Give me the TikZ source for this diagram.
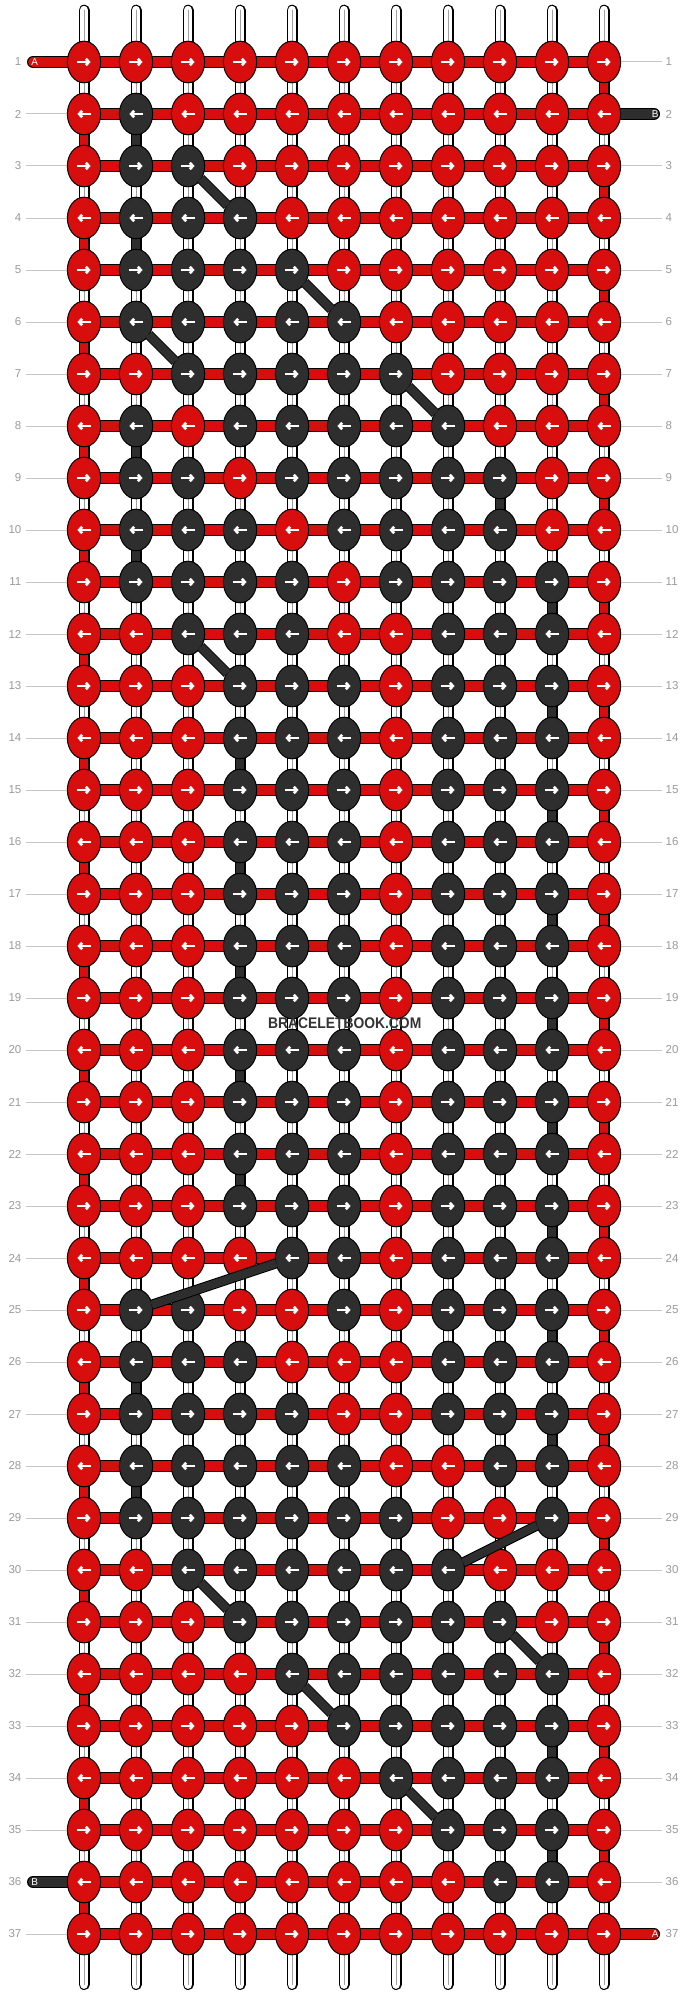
\documentclass[tikz,border=0pt]{standalone}
\usepackage{fontspec}
\setmainfont{Liberation Sans}
\usetikzlibrary{shapes.geometric,arrows.meta}
\definecolor{R}{HTML}{D80E0E}
\definecolor{K}{HTML}{2E2E2E}
\definecolor{lblgray}{HTML}{9A9A9A}
\definecolor{linegray}{HTML}{C4C4C4}
\definecolor{strandgray}{HTML}{A0A0A0}
\definecolor{wmgray}{HTML}{333333}
\pgfdeclarelayer{back}
\pgfsetlayers{back,main}
\tikzset{
  knot/.style={ellipse, draw=black, line width=1pt, minimum width=33.3pt, minimum height=41.6pt, inner sep=0pt},
  arrowline/.style={draw=white, line width=2.6pt, -{Straight Barb[length=3pt,width=6.5pt]}},
  knotR/.style={knot, path picture={\draw[arrowline] ([xshift=-6.6pt]path picture bounding box.center) -- ([xshift=6.6pt]path picture bounding box.center);}},
  knotL/.style={knot, path picture={\draw[arrowline] ([xshift=6.6pt]path picture bounding box.center) -- ([xshift=-6.6pt]path picture bounding box.center);}},
  wstrand/.style={draw=white, line width=8.8pt, preaction={draw=black, line width=11pt}, postaction={draw=strandgray, line width=0.9pt}},
  wstrandend/.style={draw=white, line width=8.8pt, line cap=round, preaction={draw=black, line width=11pt, line cap=round}, postaction={draw=strandgray, line width=0.9pt, line cap=round}},
  cstrand/.style={draw=#1, line width=8.8pt, preaction={draw=black, line width=11pt}},
  hband/.style={draw=R, line width=9.8pt, preaction={draw=black, line width=12pt}},
  endband/.style={draw=#1, line width=9.8pt, line cap=round, preaction={draw=black, line width=12pt, line cap=round}},
  diagband/.style={draw=K, line width=8.2pt, preaction={draw=black, line width=10.2pt}, shorten <=-1pt, shorten >=-1pt},
  gline/.style={draw=linegray, line width=1pt},
  rowlbl/.style={text=lblgray, font=\fontsize{11.5}{12}\selectfont, inner sep=0pt},
  endlbl/.style={text=white, font=\fontsize{10}{11}\selectfont, inner sep=0pt},
}
\begin{document}
\begin{tikzpicture}[x=1pt,y=-1pt]
\useasboundingbox (0,0) rectangle (688,1996);
% knots
\foreach \r/\cols in {
1/{R,R,R,R,R,R,R,R,R,R,R},
2/{R,K,R,R,R,R,R,R,R,R,R},
3/{R,K,K,R,R,R,R,R,R,R,R},
4/{R,K,K,K,R,R,R,R,R,R,R},
5/{R,K,K,K,K,R,R,R,R,R,R},
6/{R,K,K,K,K,K,R,R,R,R,R},
7/{R,R,K,K,K,K,K,R,R,R,R},
8/{R,K,R,K,K,K,K,K,R,R,R},
9/{R,K,K,R,K,K,K,K,K,R,R},
10/{R,K,K,K,R,K,K,K,K,R,R},
11/{R,K,K,K,K,R,K,K,K,K,R},
12/{R,R,K,K,K,R,R,K,K,K,R},
13/{R,R,R,K,K,K,R,K,K,K,R},
14/{R,R,R,K,K,K,R,K,K,K,R},
15/{R,R,R,K,K,K,R,K,K,K,R},
16/{R,R,R,K,K,K,R,K,K,K,R},
17/{R,R,R,K,K,K,R,K,K,K,R},
18/{R,R,R,K,K,K,R,K,K,K,R},
19/{R,R,R,K,K,K,R,K,K,K,R},
20/{R,R,R,K,K,K,R,K,K,K,R},
21/{R,R,R,K,K,K,R,K,K,K,R},
22/{R,R,R,K,K,K,R,K,K,K,R},
23/{R,R,R,K,K,K,R,K,K,K,R},
24/{R,R,R,R,K,K,R,K,K,K,R},
25/{R,K,K,R,R,K,R,K,K,K,R},
26/{R,K,K,K,R,R,R,K,K,K,R},
27/{R,K,K,K,K,R,R,K,K,K,R},
28/{R,K,K,K,K,K,R,R,K,K,R},
29/{R,K,K,K,K,K,K,R,R,K,R},
30/{R,R,K,K,K,K,K,K,R,R,R},
31/{R,R,R,K,K,K,K,K,K,R,R},
32/{R,R,R,R,K,K,K,K,K,K,R},
33/{R,R,R,R,R,K,K,K,K,K,R},
34/{R,R,R,R,R,R,K,K,K,K,R},
35/{R,R,R,R,R,R,R,K,K,K,R},
36/{R,R,R,R,R,R,R,R,K,K,R},
37/{R,R,R,R,R,R,R,R,R,R,R}} {
  \pgfmathsetmacro\yy{62+52*(\r-1)}
  \foreach \col [count=\c] in \cols {
    \pgfmathsetmacro\xx{84+52*(\c-1)}
    \ifodd\r
      \node[knotR, fill=\col] (k-\r-\c) at (\xx,\yy) {};
    \else
      \node[knotL, fill=\col] (k-\r-\c) at (\xx,\yy) {};
    \fi
  }
}
\begin{pgfonlayer}{back}
  % top and bottom strands
  \foreach \c in {1,...,11} {
    \pgfmathsetmacro\xx{84+52*(\c-1)}
    \coordinate (top-\c) at (\xx,10.2);
    \coordinate (bot-\c) at (\xx,1984.5);
    \draw[wstrandend] (top-\c) -- (k-1-\c.center);
    \draw[wstrandend] (bot-\c) -- (k-37-\c.center);
  }
  % vertical strands between rows
  \foreach \r in {1,...,36} {
    \pgfmathtruncatemacro\rn{\r+1}
    \foreach \c in {1,...,11} {
      \draw[wstrand] (k-\r-\c.center) -- (k-\rn-\c.center);
    }
  }
  \foreach \r in {1,3,...,35} {
    \pgfmathtruncatemacro\rn{\r+1}
    \draw[cstrand=R] (k-\r-11.center) -- (k-\rn-11.center);
  }
  \foreach \r in {2,4,...,36} {
    \pgfmathtruncatemacro\rn{\r+1}
    \draw[cstrand=R] (k-\r-1.center) -- (k-\rn-1.center);
  }
  \foreach \r/\c in {2/2,4/2,8/2,9/9,10/2,11/10,13/10,14/4,15/10,16/4,17/10,18/4,19/10,20/4,21/10,22/4,23/10,25/10,26/2,27/10,28/2,33/10,35/10} {
    \pgfmathtruncatemacro\rn{\r+1}
    \draw[cstrand=K] (k-\r-\c.center) -- (k-\rn-\c.center);
  }
  % horizontal bands
  \foreach \r in {1,...,37} {
    \foreach \c in {1,...,10} {
      \pgfmathtruncatemacro\cn{\c+1}
      \draw[hband] (k-\r-\c.center) -- (k-\r-\cn.center);
    }
  }
  % free ends of the working threads
  \coordinate (A-in) at (33,62);
  \coordinate (B-in) at (654,114);
  \coordinate (B-out) at (33,1882);
  \coordinate (A-out) at (654,1934);
  \draw[endband=R] (A-in) -- (k-1-1.center);
  \draw[endband=K] (B-in) -- (k-2-11.center);
  \draw[endband=K] (B-out) -- (k-36-1.center);
  \draw[endband=R] (A-out) -- (k-37-11.center);
\end{pgfonlayer}
% diagonal carries
\foreach \a/\b in {3-3/4-4,5-5/6-6,6-2/7-3,7-7/8-8,12-3/13-4,24-5/25-2,29-10/30-8,30-3/31-4,31-9/32-10,32-5/33-6,34-7/35-8} {
  \draw[diagband] (k-\a) -- (k-\b);
}
% end labels
\node[endlbl] (A-lbl-in) at (34.7,62.3) {A};
\node[endlbl] (B-lbl-in) at (655.3,114.3) {B};
\node[endlbl] (B-lbl-out) at (34.7,1882.3) {B};
\node[endlbl] (A-lbl-out) at (655.3,1934.3) {A};
% row numbers and guide lines
\foreach \r in {1,...,37} {
  \pgfmathsetmacro\yy{62+52*(\r-1)}
  \node[rowlbl, anchor=east] (ln-\r) at (21.5,\yy) {\r};
  \node[rowlbl, anchor=west] (rn-\r) at (665.5,\yy) {\r};
}
\foreach \r in {2,...,35,37} {
  \pgfmathsetmacro\yy{62+52*(\r-1)}
  \coordinate (gl-\r) at (26,\yy);
  \draw[gline] (gl-\r) -- (k-\r-1);
}
\foreach \r in {1,3,4,...,36} {
  \pgfmathsetmacro\yy{62+52*(\r-1)}
  \coordinate (gr-\r) at (662,\yy);
  \draw[gline] (gr-\r) -- (k-\r-11);
}
% watermark
\node[text=wmgray, inner sep=0pt] (wm) at (344.7,1023.5) {\scalebox{0.9}[1]{\bfseries\fontsize{15.4}{16}\selectfont BRACELETBOOK.COM}};
\end{tikzpicture}
\end{document}
